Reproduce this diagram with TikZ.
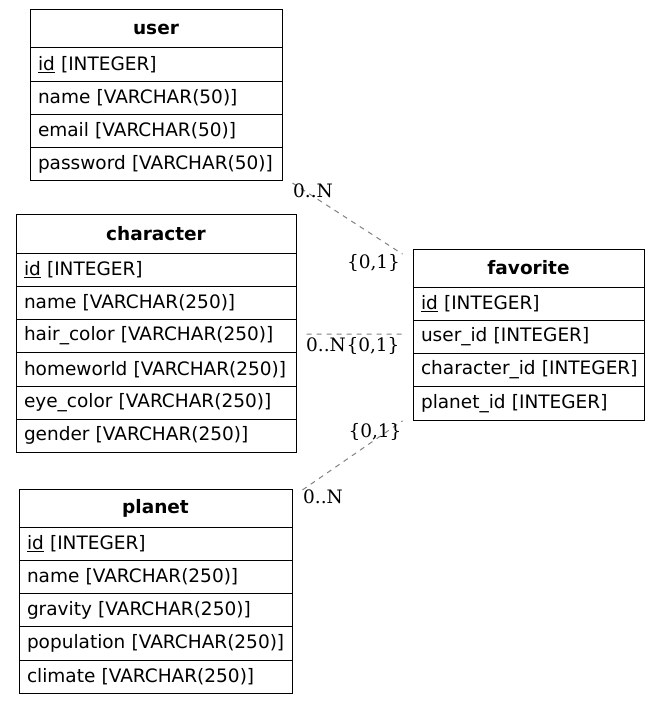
\documentclass[tikz,border=0pt]{standalone}
\usepackage{fontspec}
\setmainfont{DejaVu Sans}
\newfontfamily\lblfont{DejaVu Serif}
\usetikzlibrary{fit}
\begin{document}
\begin{tikzpicture}[x=1pt,y=-1pt,
  tbl/.style={draw=black, line width=1pt, anchor=north west, inner ysep=0pt, outer sep=0pt},
  hdr/.style={tbl, minimum height=38pt, minimum width=#1, inner xsep=0pt, font=\fontsize{18.5}{22}\selectfont\bfseries},
  fld/.style={tbl, minimum height=33.25pt, text width=#1, inner xsep=8pt, align=left, font=\fontsize{18.5}{22}\selectfont},
  wrap/.style={inner xsep=10.5pt, inner ysep=5.3pt, outer sep=0pt},
  rel/.style={draw=gray, dash pattern=on 5pt off 5pt, line width=1pt},
  lbl/.style={font=\lblfont\fontsize{18.5}{22}\selectfont, anchor=base, inner sep=0pt}]
\useasboundingbox (0,0) rectangle (660,703);
% user
\node[hdr=252pt] (uH) at (30,10) {user};
\node[fld=236pt] (u1) at (uH.south west) {\mbox{\underline{id} [INTEGER]}};
\node[fld=236pt] (u2) at (u1.south west) {\mbox{name [VARCHAR(50)]}};
\node[fld=236pt] (u3) at (u2.south west) {\mbox{email [VARCHAR(50)]}};
\node[fld=236pt] (u4) at (u3.south west) {\mbox{password [VARCHAR(50)]}};
\node[wrap, fit=(uH)(u4)] (user) {};
% character
\node[hdr=280pt] (cH) at (16,215) {character};
\node[fld=264pt] (c1) at (cH.south west) {\mbox{\underline{id} [INTEGER]}};
\node[fld=264pt] (c2) at (c1.south west) {\mbox{name [VARCHAR(250)]}};
\node[fld=264pt] (c3) at (c2.south west) {\mbox{hair\_color [VARCHAR(250)]}};
\node[fld=264pt] (c4) at (c3.south west) {\mbox{homeworld [VARCHAR(250)]}};
\node[fld=264pt] (c5) at (c4.south west) {\mbox{eye\_color [VARCHAR(250)]}};
\node[fld=264pt] (c6) at (c5.south west) {\mbox{gender [VARCHAR(250)]}};
\node[wrap, fit=(cH)(c6)] (char) {};
% planet
\node[hdr=273pt] (pH) at (19,489) {planet};
\node[fld=257pt] (p1) at (pH.south west) {\mbox{\underline{id} [INTEGER]}};
\node[fld=257pt] (p2) at (p1.south west) {\mbox{name [VARCHAR(250)]}};
\node[fld=257pt] (p3) at (p2.south west) {\mbox{gravity [VARCHAR(250)]}};
\node[fld=257pt] (p4) at (p3.south west) {\mbox{population [VARCHAR(250)]}};
\node[fld=257pt] (p5) at (p4.south west) {\mbox{climate [VARCHAR(250)]}};
\node[wrap, fit=(pH)(p5)] (planet) {};
% favorite
\node[hdr=231pt] (fH) at (413,249) {favorite};
\node[fld=215pt] (f1) at (fH.south west) {\mbox{\underline{id} [INTEGER]}};
\node[fld=215pt] (f2) at (f1.south west) {\mbox{user\_id [INTEGER]}};
\node[fld=215pt] (f3) at (f2.south west) {\mbox{character\_id [INTEGER]}};
\node[fld=215pt] (f4) at (f3.south west) {\mbox{planet\_id [INTEGER]}};
\node[wrap, fit=(fH)(f4)] (fav) {};
% relations
\draw[rel] (user) -- (fav);
\draw[rel] (char) -- (fav);
\draw[rel] (planet) -- (fav);
% labels
\node[lbl] (l1) at (313,198) {0..N};
\node[lbl] (l2) at (373.5,268) {\{0,1\}};
\node[lbl] (l3) at (326,351) {0..N};
\node[lbl] (l4) at (373,351) {\{0,1\}};
\node[lbl] (l5) at (375,437) {\{0,1\}};
\node[lbl] (l6) at (323,503) {0..N};
\end{tikzpicture}
\end{document}
